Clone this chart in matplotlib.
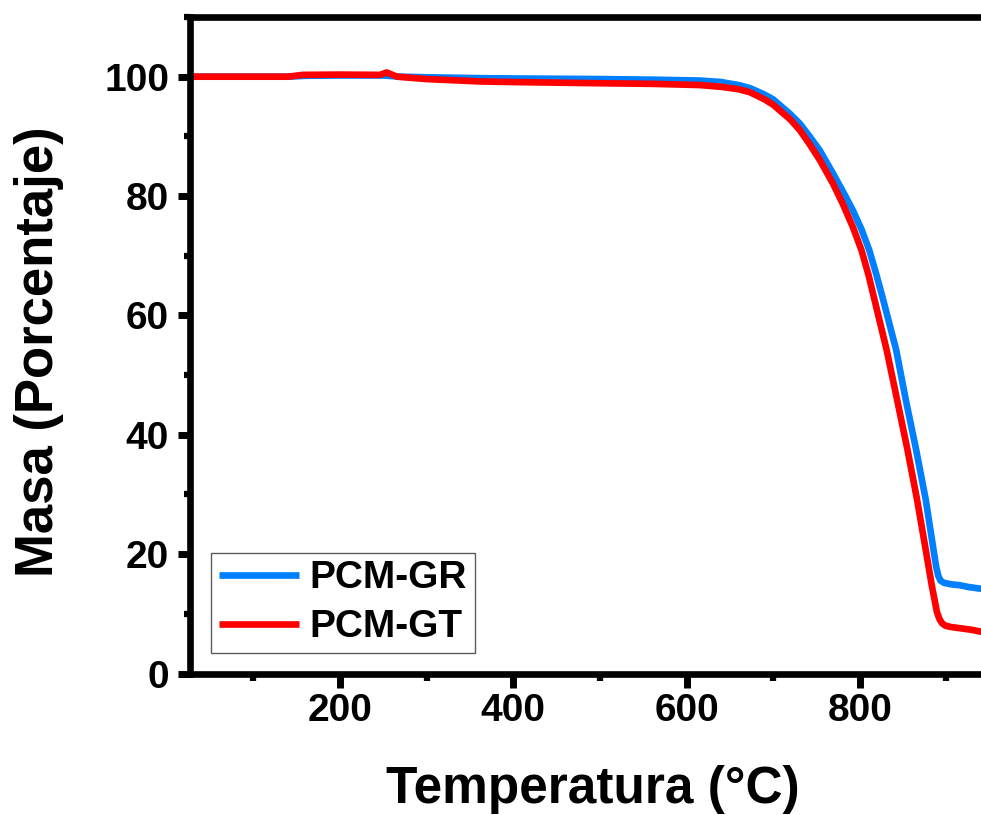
import matplotlib
matplotlib.use("Agg")
import matplotlib.pyplot as plt
from matplotlib.ticker import MultipleLocator

# TGA curves: temperature (°C) vs remaining mass (%)
gr_temp = [27, 60, 100, 140, 160, 200, 250, 270, 300, 362, 400, 450, 500, 560,
           615, 640, 660, 673, 690, 700, 708, 720, 731, 742, 754, 769, 780, 792,
           802, 811, 819, 827, 842, 853, 865, 876, 885, 888, 890.5, 893, 897,
           905, 915, 925, 940, 950]
gr_mass = [100.0, 100.0, 100.0, 100.0, 100.15, 100.2, 100.2, 100.0, 99.9, 99.75,
           99.7, 99.65, 99.6, 99.5, 99.35, 99.1, 98.6, 98.1, 97.0, 96.2, 95.2,
           93.7, 92.1, 90.0, 87.6, 83.8, 80.9, 77.6, 74.4, 70.9, 66.9, 62.6,
           54.2, 45.9, 37.5, 29.2, 20.8, 18.0, 16.4, 15.6, 15.2, 14.95, 14.8,
           14.5, 14.2, 14.0]

gt_temp = [27, 60, 100, 140, 157, 200, 246, 254, 266, 300, 362, 400, 450, 500,
           560, 615, 640, 660, 673, 690, 700, 708, 720, 731, 742, 754, 769, 780,
           792, 802, 810, 817, 831, 843, 855, 866, 876, 883, 889, 892, 895, 899,
           905, 915, 930, 940, 950]
gt_mass = [100.0, 100.0, 100.0, 100.0, 100.3, 100.35, 100.3, 100.7, 100.0, 99.6,
           99.2, 99.1, 99.0, 98.9, 98.8, 98.6, 98.3, 97.9, 97.4, 96.2, 95.3,
           94.3, 92.8, 91.0, 88.7, 86.0, 82.1, 78.8, 74.8, 70.9, 66.8, 62.6,
           54.2, 45.9, 37.5, 29.2, 20.8, 14.8, 10.3, 9.1, 8.4, 8.0, 7.8, 7.6,
           7.3, 7.0, 6.8]

series_labels = ["PCM-GR", "PCM-GT"]
series_colors = ["#0080FF", "#FF0000"]

x_label = "Temperatura (°C)"
y_label = "Masa (Porcentaje)"
x_ticks = [200, 400, 600, 800]
y_ticks = [0, 20, 40, 60, 80, 100]

plt.rcParams["font.family"] = ["Liberation Sans", "DejaVu Sans"]
plt.rcParams["font.weight"] = "bold"

W, H = 981, 815
fig = plt.figure(figsize=(W / 100, H / 100), dpi=100)

# axes box in pixels (left, bottom spine, width, height); right side runs past the canvas
left_px, bottom_px, top_px = 190, 673.5, 17
xmin, xmax = 27, 950
px_per_deg = 0.8665
width_px = (xmax - xmin) * px_per_deg
ax = fig.add_axes([left_px / W, (H - bottom_px) / H, width_px / W,
                   (bottom_px - top_px) / H])

ax.plot(gr_temp, gr_mass, color=series_colors[0], lw=4.8,
        solid_joinstyle="round", solid_capstyle="butt", label=series_labels[0])
ax.plot(gt_temp, gt_mass, color=series_colors[1], lw=4.8,
        solid_joinstyle="round", solid_capstyle="butt", label=series_labels[1])

ax.set_xlim(xmin, xmax)
ax.set_ylim(0, 110)
ax.set_xticks(x_ticks)
ax.set_yticks(y_ticks)
ax.xaxis.set_minor_locator(MultipleLocator(100))
ax.yaxis.set_minor_locator(MultipleLocator(10))

for s in ax.spines.values():
    s.set_linewidth(4.8)
ax.tick_params(which="major", direction="out", length=10, width=5,
               labelsize=28, top=False, right=False)
ax.tick_params(axis="y", which="major", length=9, pad=6)
ax.tick_params(axis="x", which="major", pad=4)
ax.tick_params(which="minor", direction="out", length=5, width=4.5,
               top=False, right=False)
ax.tick_params(axis="y", which="minor", length=4.5)
for lab in ax.get_xticklabels() + ax.get_yticklabels():
    lab.set_fontweight("bold")

ax.set_xlabel(x_label, fontsize=37, fontweight="bold")
ax.set_ylabel(y_label, fontsize=38, fontweight="bold")
ax.xaxis.label.set_va("center")
ax.yaxis.label.set_va("center")
ax.xaxis.set_label_coords((592.5 - left_px) / width_px,
                          (bottom_px - 790) / (bottom_px - top_px))
ax.yaxis.set_label_coords((39 - left_px) / width_px,
                          (bottom_px - 352) / (bottom_px - top_px))

leg = ax.legend(loc="lower left",
                bbox_to_anchor=((211 - left_px) / width_px,
                                (bottom_px - 653) / (bottom_px - top_px)),
                borderaxespad=0, fancybox=False, frameon=True,
                prop={"size": 28, "weight": "bold"},
                handlelength=2.06, handletextpad=0.28, borderpad=0.2,
                labelspacing=0.33)
leg.get_frame().set_edgecolor("#333333")
leg.get_frame().set_linewidth(1.0)

fig.savefig("out.png", dpi=100)
